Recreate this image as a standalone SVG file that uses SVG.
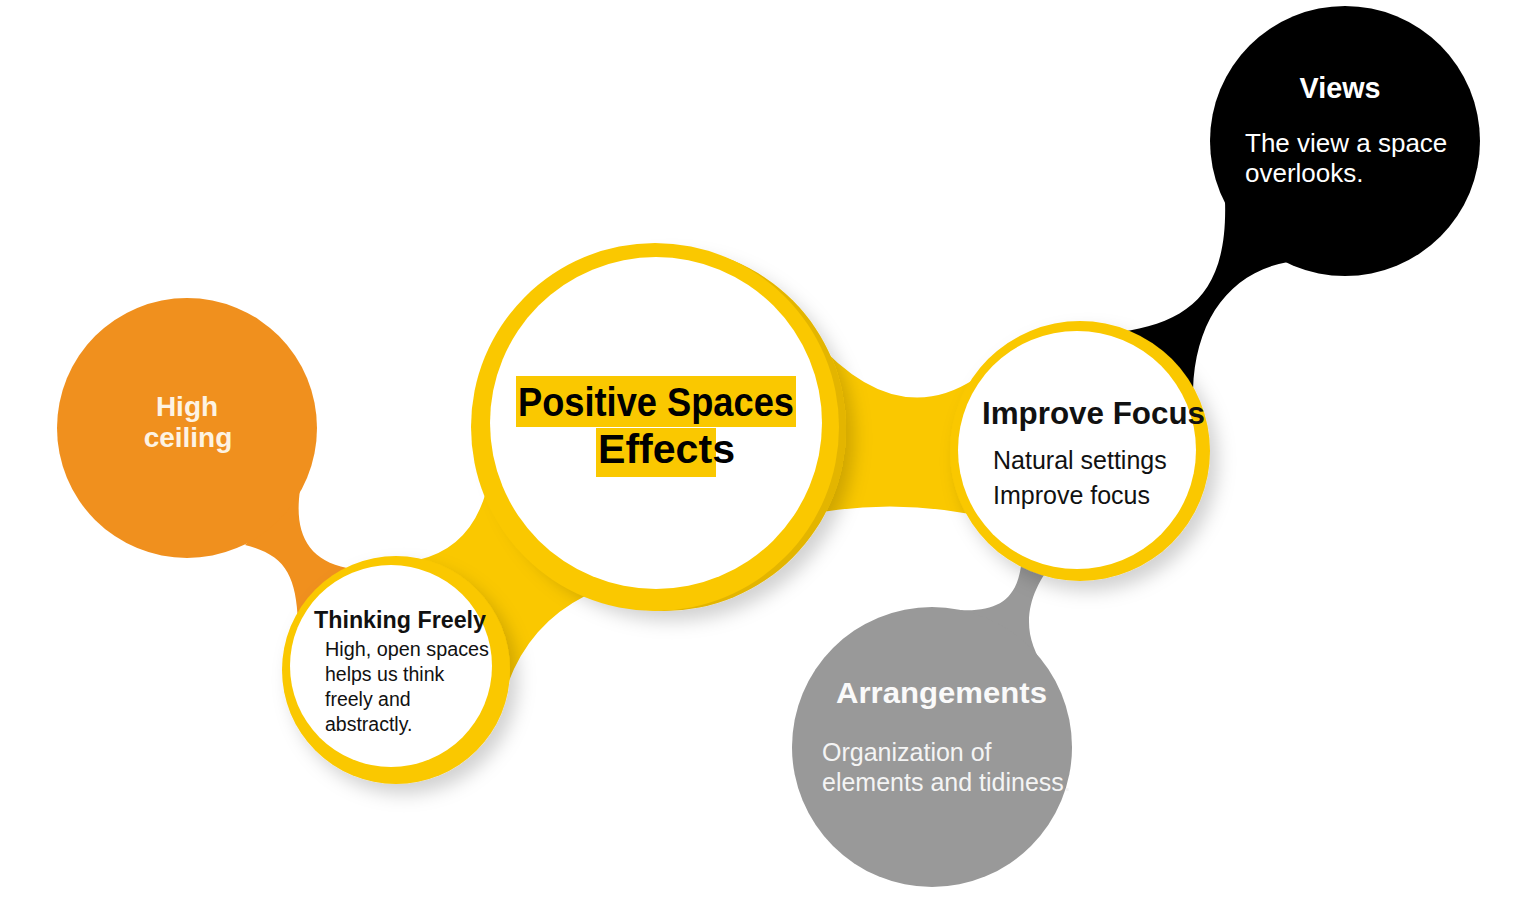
<svg xmlns="http://www.w3.org/2000/svg" width="1514" height="900" viewBox="0 0 1514 900">
<defs>
<style>
.t{font-family:"Liberation Sans",Arial,sans-serif}
.b{font-weight:bold}
.yel{fill:#fac800}
.inner{fill:#ffffff}
</style>
<filter id="sh" x="-20%" y="-20%" width="140%" height="140%">
<feDropShadow dx="8" dy="10" stdDeviation="9" flood-color="#000" flood-opacity="0.18"/>
</filter>
</defs>
<rect width="1514" height="900" fill="#ffffff"/>
<g id="connectors">
<path d="M245,545 C285,555 296,575 298,622 L347,568 C307,560 294,532 300,490 Z" fill="#f0901e"/>
<path d="M486,492 Q470,548 418,560 L505,692 Q526,626 585,596 Z" class="yel"/>
<path d="M812,337 Q895,432 976,378 L970,514 Q895,500 822,512 Z" class="yel"/>
<path d="M1120,332 C1190,322 1228,292 1225,200 L1288,262 C1230,272 1195,320 1193,390 Z" fill="#000"/>
<path d="M960,610 C1000,612 1020,598 1022,555 L1055,560 C1030,590 1015,630 1048,672 Z" fill="#999999"/>
</g>
<g id="high-ceiling">
<circle cx="187" cy="428" r="130" fill="#f0901e"/>
<text class="t b" x="187" y="416" font-size="28" fill="#fdf3e3" text-anchor="middle">High</text>
<text class="t b" x="188" y="447" font-size="28" fill="#fdf3e3" text-anchor="middle">ceiling</text>
</g>
<g id="thinking-freely">
<circle cx="396" cy="670" r="114" class="yel" filter="url(#sh)"/>
<circle cx="391" cy="666" r="101" class="inner"/>
<text class="t b" x="314" y="628" font-size="23" fill="#111" textLength="172" lengthAdjust="spacingAndGlyphs">Thinking Freely</text>
<text class="t" x="325" y="656" font-size="19.5" fill="#111" textLength="164" lengthAdjust="spacingAndGlyphs">High, open spaces</text>
<text class="t" x="325" y="681" font-size="19.5" fill="#111">helps us think</text>
<text class="t" x="325" y="706" font-size="19.5" fill="#111">freely and</text>
<text class="t" x="325" y="731" font-size="19.5" fill="#111">abstractly.</text>
</g>
<g id="positive-spaces-effects">
<circle cx="664" cy="429" r="182" fill="#e3b500" filter="url(#sh)"/>
<circle cx="655" cy="427" r="184" class="yel"/>
<circle cx="656" cy="423" r="166" class="inner"/>
<rect x="516" y="376" width="280" height="51" class="yel"/>
<rect x="596" y="428" width="120" height="49" class="yel"/>
<text class="t b" x="518" y="416" font-size="40" fill="#000" textLength="276" lengthAdjust="spacingAndGlyphs">Positive Spaces</text>
<text class="t b" x="598" y="463" font-size="40" fill="#000" textLength="137" lengthAdjust="spacingAndGlyphs">Effects</text>
</g>
<g id="improve-focus">
<circle cx="1080" cy="451" r="130" class="yel" filter="url(#sh)"/>
<circle cx="1077" cy="450" r="119" class="inner"/>
<text class="t b" x="982" y="424" font-size="31" fill="#111" textLength="223" lengthAdjust="spacingAndGlyphs">Improve Focus</text>
<text class="t" x="993" y="469" font-size="25" fill="#111">Natural settings</text>
<text class="t" x="993" y="504" font-size="25" fill="#111">Improve focus</text>
</g>
<g id="views">
<circle cx="1345" cy="141" r="135" fill="#000"/>
<text class="t b" x="1340" y="98" font-size="30" fill="#fff" text-anchor="middle" textLength="81" lengthAdjust="spacingAndGlyphs">Views</text>
<text class="t" x="1245" y="152" font-size="26" fill="#fff">The view a space</text>
<text class="t" x="1245" y="182" font-size="26" fill="#fff">overlooks.</text>
</g>
<g id="arrangements">
<circle cx="932" cy="747" r="140" fill="#999999"/>
<text class="t b" x="836" y="703" font-size="29" fill="#fafafa" textLength="211" lengthAdjust="spacingAndGlyphs">Arrangements</text>
<text class="t" x="822" y="761" font-size="25" fill="#f4f4f4">Organization of</text>
<text class="t" x="822" y="791" font-size="25" fill="#f4f4f4">elements and tidiness.</text>
</g>
</svg>
